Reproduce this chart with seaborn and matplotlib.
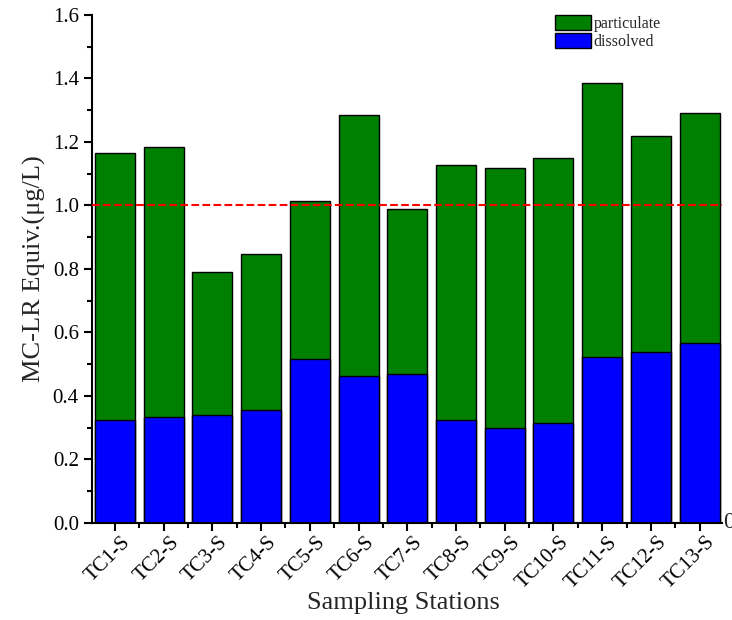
import matplotlib.pyplot as plt
import matplotlib.ticker as mticker
import matplotlib.transforms as mtransforms
from matplotlib.patches import Patch
import pandas as pd
import seaborn as sns

stations = ['TC1-S', 'TC2-S', 'TC3-S', 'TC4-S', 'TC5-S', 'TC6-S', 'TC7-S',
            'TC8-S', 'TC9-S', 'TC10-S', 'TC11-S', 'TC12-S', 'TC13-S']
total = [1.165, 1.184, 0.790, 0.847, 1.014, 1.285, 0.989,
         1.128, 1.118, 1.150, 1.386, 1.219, 1.291]
dissolved = [0.324, 0.334, 0.340, 0.356, 0.517, 0.463, 0.469,
             0.324, 0.299, 0.315, 0.523, 0.539, 0.567]

df = pd.DataFrame({'station': stations, 'total': total, 'dissolved': dissolved})

sns.set_style('ticks')
plt.rcParams['font.family'] = ['Liberation Serif', 'DejaVu Serif']

fig = plt.figure(figsize=(7.32, 6.2), dpi=100)
ax = fig.add_axes([0.1257, 0.1565, 0.860, 0.8193])

# total height drawn first (green), dissolved part on top of it (blue)
sns.barplot(data=df, x='station', y='total', color='#008000', width=0.82,
            edgecolor='black', linewidth=1, saturation=1, ax=ax)
sns.barplot(data=df, x='station', y='dissolved', color='#0000FF', width=0.82,
            edgecolor='black', linewidth=1, saturation=1, ax=ax)

ax.axhline(1.0, color='red', ls='--', lw=1.5, zorder=5)

ax.set_ylim(0, 1.6)
ax.set_xlim(-0.47, 12.45)
ax.yaxis.set_major_locator(mticker.MultipleLocator(0.2))
ax.yaxis.set_minor_locator(mticker.MultipleLocator(0.1))
ax.yaxis.set_major_formatter(mticker.FormatStrFormatter('%.1f'))
ax.xaxis.set_minor_locator(mticker.FixedLocator([i - 0.5 for i in range(14)]))

for s in ['top', 'right']:
    ax.spines[s].set_visible(False)
for s in ['left', 'bottom']:
    ax.spines[s].set_linewidth(1.5)
    ax.spines[s].set_color('black')

ax.tick_params(which='major', length=6, width=1.5, labelsize=15, colors='black')
ax.tick_params(which='minor', length=3.5, width=1.5, colors='black')
ax.tick_params(axis='x', which='major', labelsize=15, pad=1)
offset = mtransforms.ScaledTranslation(0.06, 0, fig.dpi_scale_trans)
for lbl in ax.get_xticklabels():
    lbl.set_rotation(45)
    lbl.set_ha('right')
    lbl.set_rotation_mode('anchor')
    lbl.set_transform(lbl.get_transform() + offset)

ax.set_xlabel('Sampling Stations', fontsize=19, va='center')
ax.xaxis.set_label_coords(0.494, -0.157)
ax.set_ylabel('MC-LR Equiv.(μg/L)', fontsize=19, labelpad=5)

handles = [Patch(facecolor='#008000', edgecolor='black', label='particulate'),
           Patch(facecolor='#0000FF', edgecolor='black', label='dissolved')]
ax.legend(handles=handles, loc='upper left', bbox_to_anchor=(0.726, 1.013),
          frameon=False, fontsize=11.5, handlelength=2.2, handleheight=1.1,
          labelspacing=0.05, handletextpad=0.2, borderaxespad=0)

fig.text(0.988, 0.1565, '0', fontsize=17, ha='left', va='center')

fig.savefig('out.png', dpi=100)
